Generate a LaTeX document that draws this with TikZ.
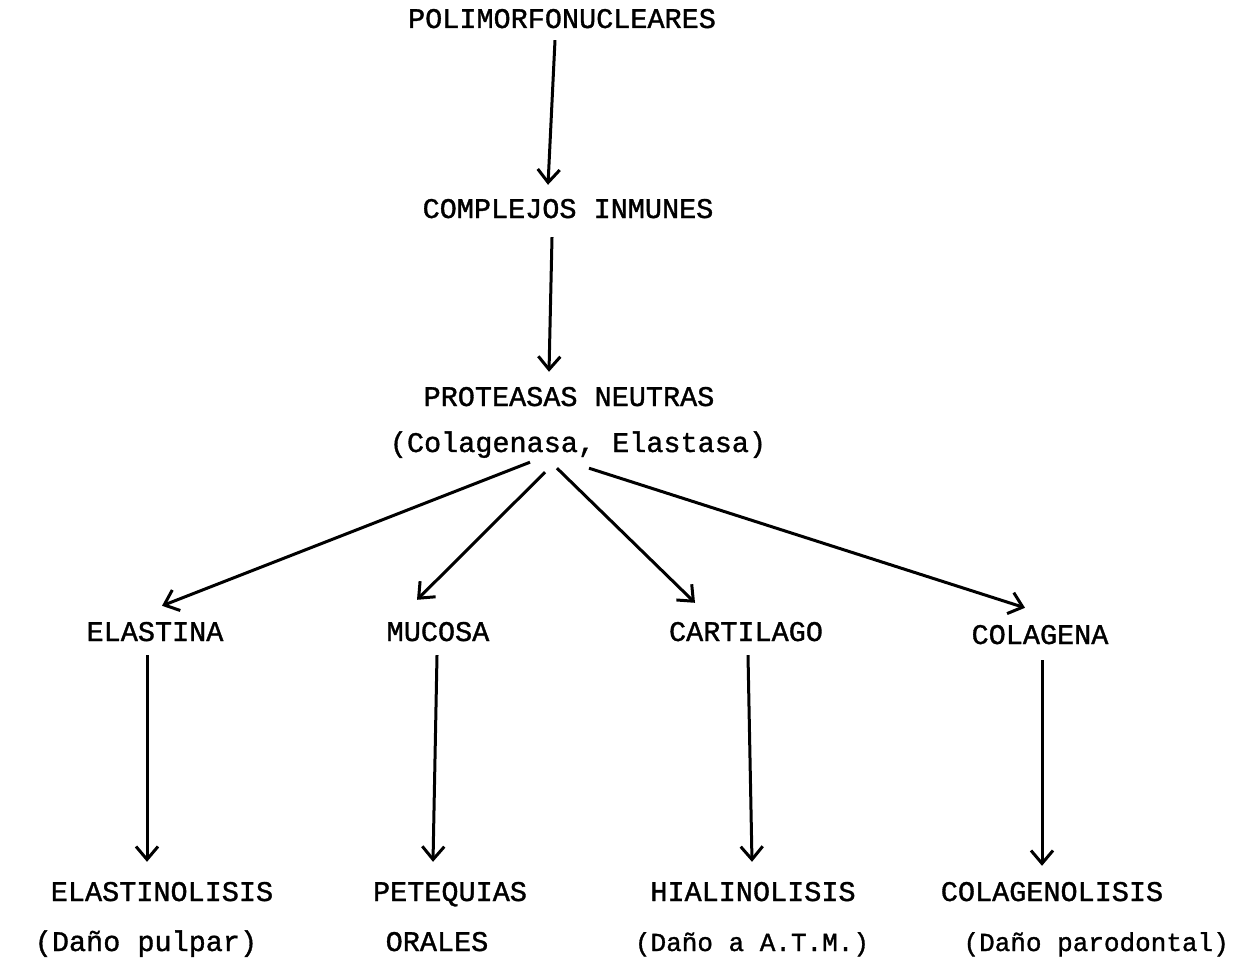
\documentclass[tikz,border=0pt]{standalone}
\usepackage{fontspec}
\newfontfamily\tw[FakeBold=1.2]{Liberation Mono}
\usetikzlibrary{arrows.meta}
\begin{document}
\begin{tikzpicture}[x=1pt,y=-1pt,
  lbl/.style={inner sep=0pt, text height=17pt, text depth=5pt, font=\tw\fontsize{28.5}{30}\selectfont},
  small/.style={lbl, font=\tw\fontsize{26}{30}\selectfont},
  arr/.style={line width=3pt, -{Straight Barb[length=13pt,width=22pt,line width=3pt]}}]
\useasboundingbox (0,0) rectangle (1233,963);
\node[lbl] (poly) at (562,22) {POLIMORFONUCLEARES};
\node[lbl] (compl) at (568,212) {COMPLEJOS INMUNES};
\node[lbl] (prot) at (569,400) {PROTEASAS NEUTRAS};
\node[lbl] (colag) at (578,446) {(Colagenasa, Elastasa)};
\node[lbl] (elastina) at (155,635) {ELASTINA};
\node[lbl] (mucosa) at (438,635) {MUCOSA};
\node[lbl] (cart) at (746,635) {CARTILAGO};
\node[lbl] (colagena) at (1040,638) {COLAGENA};
\node[lbl] (elisis) at (162,895) {ELASTINOLISIS};
\node[lbl] (pulpar) at (146,945) {(Daño pulpar)};
\node[lbl] (petequias) at (450,895) {PETEQUIAS};
\node[lbl] (orales) at (437,945) {ORALES};
\node[lbl] (hialino) at (753,895) {HIALINOLISIS};
\node[small] (atm) at (752,945) {(Daño a A.T.M.)};
\node[lbl] (colisis) at (1052,895) {COLAGENOLISIS};
\node[small, anchor=east] (parod) at (1229,945) {(Daño parodontal)};
% vertical arrows, top
\draw[arr] ([xshift=-7pt,yshift=-7pt]poly.south) -- ([xshift=-20pt,yshift=16pt]compl.north);
\draw[arr] ([xshift=-16pt,yshift=-14pt]compl.south) -- ([xshift=-20pt,yshift=17pt]prot.north);
% diagonal arrows
\draw[arr] ([xshift=-48pt,yshift=-5pt]colag.south) -- ([xshift=7pt,yshift=18pt]elastina.north);
\draw[arr] ([xshift=-33pt,yshift=-15pt]colag.south) -- ([xshift=-21pt,yshift=24pt]mucosa.north);
\draw[arr] ([xshift=-21pt,yshift=-11pt]colag.south) -- ([xshift=-51pt,yshift=21pt]cart.north);
\draw[arr] ([xshift=11pt,yshift=-11pt]colag.south) -- ([xshift=-15pt,yshift=19pt]colagena.north);
% vertical arrows, bottom
\draw[arr] ([xshift=-8pt,yshift=-9pt]elastina.south) -- ([xshift=-15pt,yshift=22pt]elisis.north);
\draw[arr] ([xshift=-1pt,yshift=-9pt]mucosa.south) -- ([xshift=-17pt,yshift=22pt]petequias.north);
\draw[arr] ([xshift=2pt,yshift=-9pt]cart.south) -- ([xshift=-1pt,yshift=22pt]hialino.north);
\draw[arr] ([xshift=2pt,yshift=-11pt]colagena.south) -- ([xshift=-10pt,yshift=18pt]colisis.north);
\end{tikzpicture}
\end{document}
